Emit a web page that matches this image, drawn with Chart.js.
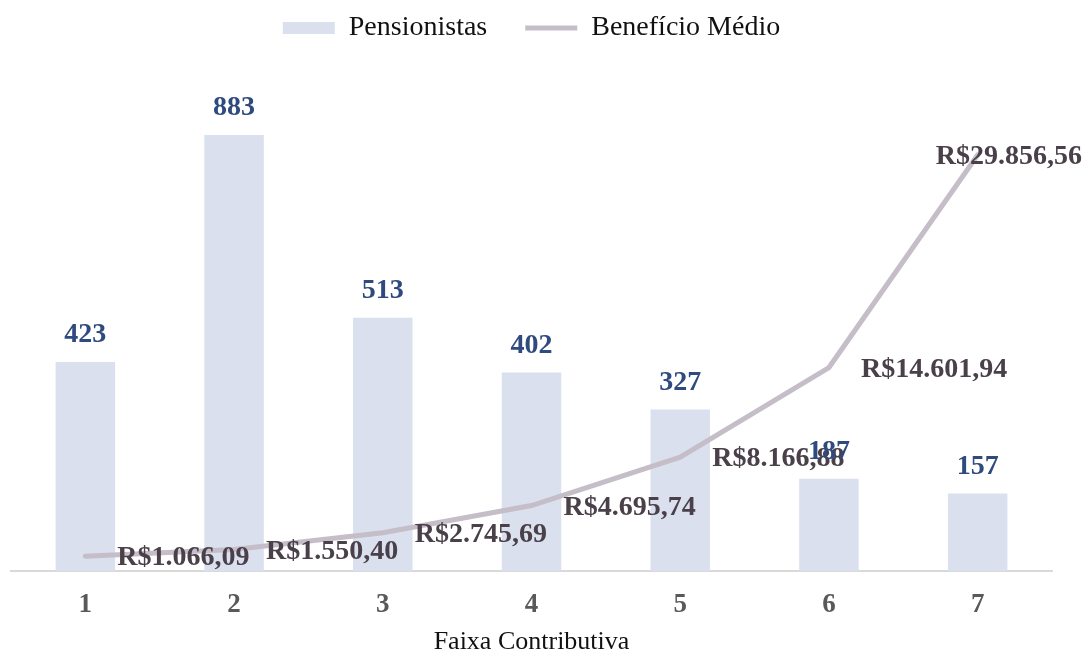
<!DOCTYPE html>
<html>
<head>
<meta charset="utf-8">
<script src="https://cdn.jsdelivr.net/npm/chart.js@4"></script>
<style>
  html, body { margin: 0; padding: 0; background: #fff; }
  #wrap { width: 1089px; height: 655px; }
</style>
</head>
<body>
<div id="wrap"><canvas id="grafico"></canvas></div>
<script>
// Faixas contributivas e séries
var faixas = ['1', '2', '3', '4', '5', '6', '7'];
var pensionistas = [423, 883, 513, 402, 327, 187, 157];
var beneficioMedio = [1066.09, 1550.40, 2745.69, 4695.74, 8166.88, 14601.94, 29856.56];

var fonte = '"Liberation Serif", "Times New Roman", serif';
var corBarra = '#DAE0EE';
var corLinha = '#C5BDC8';
var corRotuloBarra = '#2F4A7E';
var corRotuloLinha = '#4A4049';

// formato R$1.234,56
function formatarReal(v) {
  var partes = v.toFixed(2).split('.');
  var inteiro = partes[0].replace(/\B(?=(\d{3})+(?!\d))/g, '.');
  return 'R$' + inteiro + ',' + partes[1];
}

// Rótulos de valores desenhados depois dos datasets
var rotulos = {
  id: 'rotulos',
  afterDatasetsDraw: function(chart) {
    var ctx = chart.ctx;
    ctx.save();
    ctx.font = 'bold 28px ' + fonte;
    ctx.textBaseline = 'middle';

    var metaLinha = chart.getDatasetMeta(1);
    ctx.fillStyle = corRotuloLinha;
    ctx.textAlign = 'left';
    metaLinha.data.forEach(function(pt, i) {
      var txt = formatarReal(beneficioMedio[i]);
      var w = ctx.measureText(txt).width;
      var x = pt.x + 32;
      if (x + w > chart.width - 7) x = chart.width - 7 - w;
      ctx.fillText(txt, x, pt.y + 2);
    });

    var metaBarra = chart.getDatasetMeta(0);
    ctx.fillStyle = corRotuloBarra;
    ctx.textAlign = 'center';
    metaBarra.data.forEach(function(bar, i) {
      ctx.fillText(String(pensionistas[i]), bar.x, bar.y - 27);
    });
    ctx.restore();
  }
};

var ctx = document.getElementById('grafico').getContext('2d');
new Chart(ctx, {
  type: 'bar',
  data: {
    labels: faixas,
    datasets: [{
      label: 'Pensionistas',
      data: pensionistas,
      backgroundColor: corBarra,
      borderWidth: 0,
      pointStyle: 'rect',
      yAxisID: 'y',
      order: 2,
      categoryPercentage: 1,
      barPercentage: 0.4
    }, {
      type: 'line',
      label: 'Benefício Médio',
      data: beneficioMedio,
      borderColor: corLinha,
      backgroundColor: corLinha,
      borderWidth: 5,
      borderCapStyle: 'round',
      pointRadius: 0,
      pointStyle: 'line',
      tension: 0,
      yAxisID: 'y1',
      order: 1
    }]
  },
  options: {
    responsive: true,
    maintainAspectRatio: false,
    animation: false,
    layout: { padding: { left: 11, right: 37, top: -24, bottom: 0 } },
    plugins: {
      tooltip: { enabled: false },
      legend: {
        position: 'top',
        labels: {
          usePointStyle: true,
          pointStyleWidth: 52,
          boxHeight: 12,
          padding: 38,
          color: '#111',
          font: { family: fonte, size: 28 },
          sort: function(a, b) { return a.datasetIndex - b.datasetIndex; }
        }
      }
    },
    scales: {
      x: {
        grid: { display: false },
        border: { color: '#D9D9D9', width: 2 },
        ticks: {
          color: '#595959',
          padding: 13,
          font: { family: fonte, size: 27, weight: 'bold', lineHeight: 1 }
        },
        title: {
          display: true,
          text: 'Faixa Contributiva',
          color: '#111',
          padding: { top: -3, bottom: 0 },
          font: { family: fonte, size: 26, lineHeight: 1 }
        }
      },
      y: { display: false, min: 0, max: 1051 },
      y1: { display: false, min: 0, max: 37249, position: 'right' }
    }
  },
  plugins: [rotulos]
});
</script>
</body>
</html>
